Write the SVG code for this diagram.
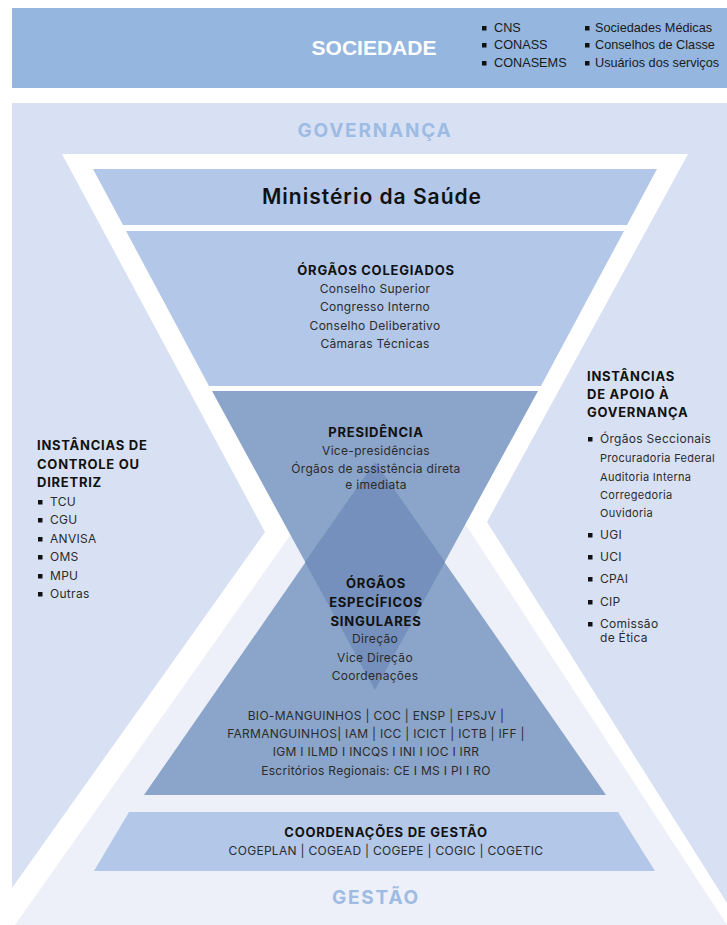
<svg xmlns="http://www.w3.org/2000/svg" width="727" height="925" viewBox="0 0 727 925">
<style>
.t{font-family:Inter,"Liberation Sans",sans-serif;fill:#2b2b2b;font-size:12px;letter-spacing:0.3px}
.c{text-anchor:middle}
.b{font-weight:700;fill:#111;font-size:13px;letter-spacing:0.75px}
.s{font-size:11px}
.top{font-family:"Liberation Sans",Arial,sans-serif;fill:#1a1a1a;font-size:12.7px}
.big{font-family:Inter,"Liberation Sans",sans-serif;font-weight:700;font-size:19px;letter-spacing:1.8px;fill:#9dbbe3;text-anchor:middle}
.blt{fill:#111}
.pale{fill:#b3c7e8}
.dark{fill:#8ba4c9}
</style>
<rect width="727" height="925" fill="#ffffff"/>
<g id="sociedade">
<rect x="12" y="8" width="715" height="80" fill="#95b6df"/>
<text x="374" y="55" text-anchor="middle" font-family="Liberation Sans,Arial,sans-serif" font-weight="700" font-size="21" fill="#ffffff">SOCIEDADE</text>
<rect class="blt" x="482" y="26" width="4.5" height="4.5"/><text class="top" x="494" y="32">CNS</text>
<rect class="blt" x="482" y="43" width="4.5" height="4.5"/><text class="top" x="494" y="49">CONASS</text>
<rect class="blt" x="482" y="61" width="4.5" height="4.5"/><text class="top" x="494" y="67">CONASEMS</text>
<rect class="blt" x="585" y="26" width="4.5" height="4.5"/><text class="top" x="595" y="32">Sociedades Médicas</text>
<rect class="blt" x="585" y="43" width="4.5" height="4.5"/><text class="top" x="595" y="49">Conselhos de Classe</text>
<rect class="blt" x="585" y="61" width="4.5" height="4.5"/><text class="top" x="595" y="67">Usuários dos serviços</text>
</g>
<g id="fundo">
<rect x="12" y="103" width="715" height="822" fill="#d8e1f3"/>
<polygon points="62,154 688,154 487,522 727,903 727,925 12,925 12,888 265,532" fill="#ffffff"/>
<polygon points="15,925 385,401 727,925" fill="#edf0f9"/>
<text class="big" x="375" y="137">GOVERNANÇA</text>
<text class="big" x="376" y="904">GESTÃO</text>
</g>
<g id="ministerio">
<polygon class="pale" points="93,169 657,169 627,225 123,225"/>
<text x="372" y="204" text-anchor="middle" font-family="Inter,Liberation Sans,sans-serif" font-weight="600" font-size="21" letter-spacing="1" fill="#111">Ministério da Saúde</text>
</g>
<g id="colegiados">
<polygon class="pale" points="126,231 624,231 541,386 209,386"/>
<text class="t b c" x="376" y="275">ÓRGÃOS COLEGIADOS</text>
<text class="t c" x="375" y="293">Conselho Superior</text>
<text class="t c" x="375" y="311">Congresso Interno</text>
<text class="t c" x="375" y="330">Conselho Deliberativo</text>
<text class="t c" x="375" y="348">Câmaras Técnicas</text>
</g>
<g id="presidencia">
<polygon class="dark" points="212,391 538,391 375,690"/>
</g>
<g id="especificos">
<polygon class="dark" points="375,462 606,795 144,795"/>
<polygon points="375,462 445,562 375,690 305,562" fill="#7590bd"/>
</g>
<g id="presidencia-texto">
<text class="t b c" x="376" y="437">PRESIDÊNCIA</text>
<text class="t c" x="376" y="455">Vice-presidências</text>
<text class="t c" x="376" y="473">Órgãos de assistência direta</text>
<text class="t c" x="376" y="489">e imediata</text>
</g>
<g id="especificos-texto">
<text class="t b c" x="376" y="588">ÓRGÃOS</text>
<text class="t b c" x="376" y="607">ESPECÍFICOS</text>
<text class="t b c" x="376" y="626">SINGULARES</text>
<text class="t c" x="375" y="643">Direção</text>
<text class="t c" x="375" y="662">Vice Direção</text>
<text class="t c" x="375" y="680">Coordenações</text>
<text class="t c" x="376" y="720">BIO-MANGUINHOS | COC | ENSP | EPSJV |</text>
<text class="t c" x="376" y="738">FARMANGUINHOS| IAM | ICC | ICICT | ICTB | IFF |</text>
<text class="t c" x="376" y="756">IGM I ILMD I INCQS I INI I IOC I IRR</text>
<text class="t c" x="376" y="775">Escritórios Regionais: CE I MS I PI I RO</text>
</g>
<g id="coordenacoes">
<polygon class="pale" points="129,812 618,812 655,871 94,871"/>
<text class="t b c" x="386" y="837">COORDENAÇÕES DE GESTÃO</text>
<text class="t c" x="386" y="855">COGEPLAN | COGEAD | COGEPE | COGIC | COGETIC</text>
</g>
<g id="controle">
<text class="t b" x="37" y="450">INSTÂNCIAS DE</text>
<text class="t b" x="37" y="469">CONTROLE OU</text>
<text class="t b" x="37" y="487">DIRETRIZ</text>
<rect class="blt" x="38" y="500" width="4.5" height="4.5"/><text class="t" x="50" y="506">TCU</text>
<rect class="blt" x="38" y="518" width="4.5" height="4.5"/><text class="t" x="50" y="524">CGU</text>
<rect class="blt" x="38" y="537" width="4.5" height="4.5"/><text class="t" x="50" y="543">ANVISA</text>
<rect class="blt" x="38" y="555" width="4.5" height="4.5"/><text class="t" x="50" y="561">OMS</text>
<rect class="blt" x="38" y="574" width="4.5" height="4.5"/><text class="t" x="50" y="580">MPU</text>
<rect class="blt" x="38" y="592" width="4.5" height="4.5"/><text class="t" x="50" y="598">Outras</text>
</g>
<g id="apoio">
<text class="t b" x="587" y="381">INSTÂNCIAS</text>
<text class="t b" x="587" y="399">DE APOIO À</text>
<text class="t b" x="587" y="417">GOVERNANÇA</text>
<rect class="blt" x="588" y="437" width="4.5" height="4.5"/><text class="t" x="600" y="443">Órgãos Seccionais</text>
<text class="t s" x="600" y="462">Procuradoria Federal</text>
<text class="t s" x="600" y="481">Auditoria Interna</text>
<text class="t s" x="600" y="499">Corregedoria</text>
<text class="t s" x="600" y="517">Ouvidoria</text>
<rect class="blt" x="588" y="533" width="4.5" height="4.5"/><text class="t" x="600" y="539">UGI</text>
<rect class="blt" x="588" y="555" width="4.5" height="4.5"/><text class="t" x="600" y="561">UCI</text>
<rect class="blt" x="588" y="577" width="4.5" height="4.5"/><text class="t" x="600" y="583">CPAI</text>
<rect class="blt" x="588" y="600" width="4.5" height="4.5"/><text class="t" x="600" y="606">CIP</text>
<rect class="blt" x="588" y="622" width="4.5" height="4.5"/><text class="t" x="600" y="628">Comissão</text>
<text class="t" x="600" y="642">de Ética</text>
</g>
</svg>
